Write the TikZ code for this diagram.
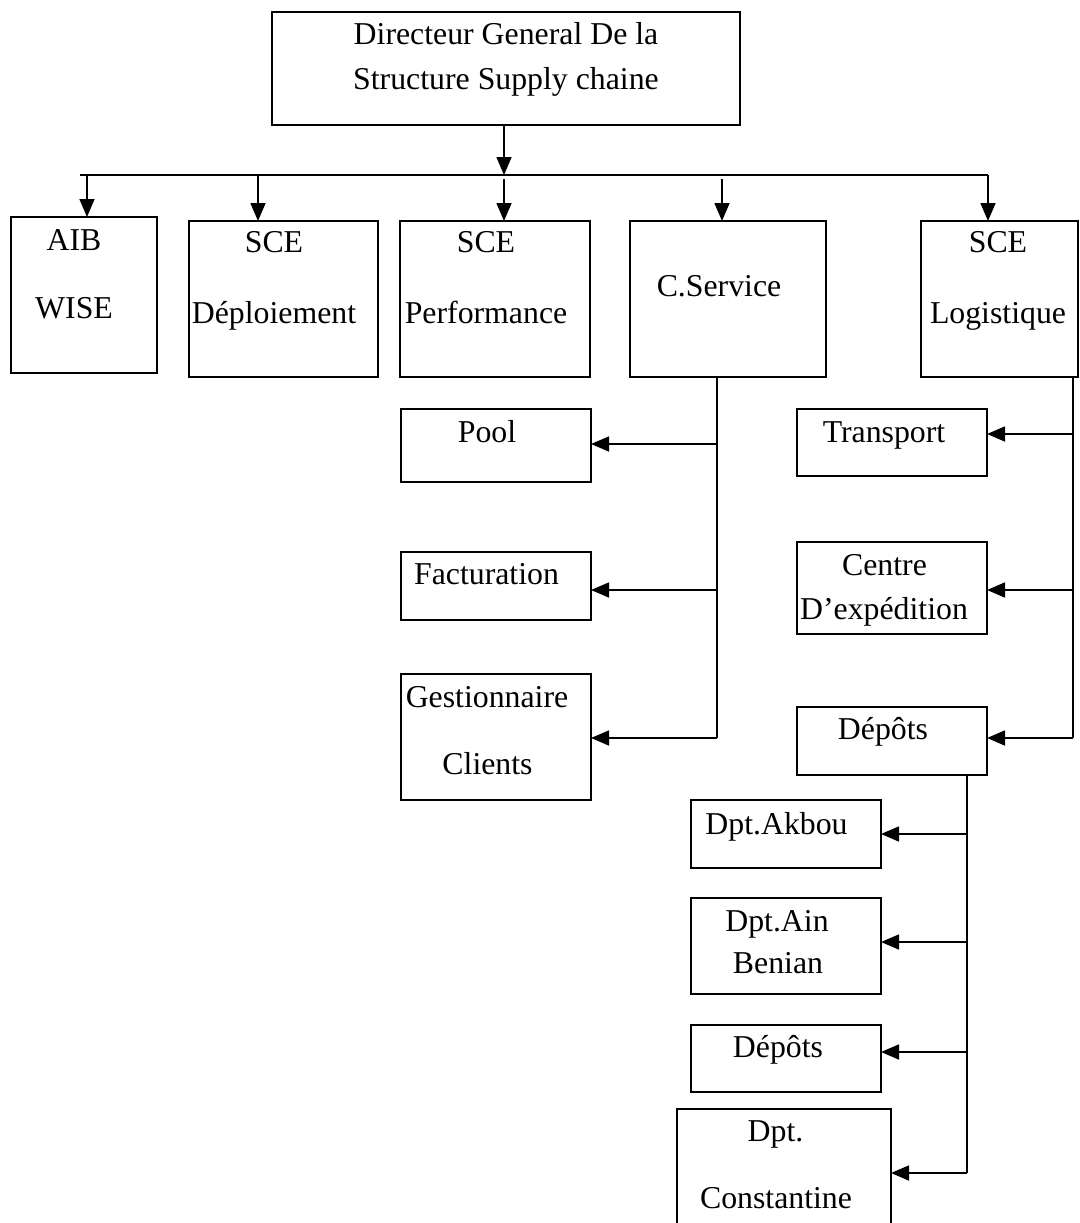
\documentclass[tikz,border=0pt]{standalone}
\usepackage{fontspec}
\setmainfont{Liberation Serif}
\usetikzlibrary{arrows.meta}
\tikzset{
  box/.style={draw, line width=1.8pt, inner sep=0pt, outer sep=0pt},
  lbl/.style={anchor=base, inner sep=0pt, font=\fontsize{31.8}{36}\selectfont},
  conn/.style={line width=1.6pt},
  busline/.style={line width=2.8pt},
  arr/.style={line width=1.6pt, -{Triangle[length=18pt,width=15pt]}}
}
\newcommand{\boxnode}[5]{\node[box, minimum width={(#4-#2)*1pt}, minimum height={(#5-#3)*1pt}] (#1) at ({(#2+#4)/2},{(#3+#5)/2}) {};}
\begin{document}
\begin{tikzpicture}[x=1pt,y=-1pt]
\clip (0,0) rectangle (1079,1223);
\fill[white] (0,0) rectangle (1079,1223);
% boxes
\boxnode{top}{272}{12}{740}{125}
\boxnode{aib}{11}{217}{157}{373}
\boxnode{dep}{189}{221}{378}{377}
\boxnode{perf}{400}{221}{590}{377}
\boxnode{csrv}{630}{221}{826}{377}
\boxnode{log}{921}{221}{1078}{377}
\boxnode{pool}{401}{409}{591}{482}
\boxnode{fact}{401}{552}{591}{620}
\boxnode{gest}{401}{674}{591}{800}
\boxnode{trans}{797}{409}{987}{476}
\boxnode{centre}{797}{542}{987}{634}
\boxnode{depots}{797}{707}{987}{775}
\boxnode{akbou}{691}{800}{881}{868}
\boxnode{ain}{691}{898}{881}{994}
\boxnode{depotsb}{691}{1025}{881}{1092}
\boxnode{const}{677}{1109}{891}{1245}
% texts
\node[lbl] (t1) at (506,45) {Directeur General De la};
\node[lbl] (t2) at (506,89) {Structure Supply chaine};
\node[lbl] (t3) at (74,250) {AIB};
\node[lbl] (t4) at (74,318) {WISE};
\node[lbl] (t5) at (274,252) {SCE};
\node[lbl] (t6) at (274,323) {Déploiement};
\node[lbl] (t7) at (486,252) {SCE};
\node[lbl] (t8) at (486,323) {Performance};
\node[lbl] (t9) at (719,296) {C.Service};
\node[lbl] (t10) at (998,252) {SCE};
\node[lbl] (t11) at (998,323) {Logistique};
\node[lbl] (t12) at (487,442) {Pool};
\node[lbl] (t13) at (486.5,584) {Facturation};
\node[lbl] (t14) at (487,707) {Gestionnaire};
\node[lbl] (t15) at (487.5,774) {Clients};
\node[lbl] (t16) at (884,442) {Transport};
\node[lbl] (t17) at (884.5,575) {Centre};
\node[lbl] (t18) at (884,619) {D’expédition};
\node[lbl] (t19) at (883,739) {Dépôts};
\node[lbl] (t20) at (776.5,834) {Dpt.Akbou};
\node[lbl] (t21) at (777,931) {Dpt.Ain};
\node[lbl] (t22) at (778,973) {Benian};
\node[lbl] (t23) at (778,1057) {Dépôts};
\node[lbl] (t24) at (775.5,1141) {Dpt.};
\node[lbl] (t25) at (776,1208) {Constantine};
% top connectors
\coordinate (busL) at (80,175);
\coordinate (busR) at (988,175);
\draw[arr] (top.south -| 504,0) -- (504,175);
\draw[busline] (busL) -- (busR);
\draw[arr] (87,175) -- (aib.north -| 87,0);
\draw[arr] (258,175) -- (dep.north -| 258,0);
\draw[arr] (504,179) -- (perf.north -| 504,0);
\draw[arr] (722,179) -- (csrv.north -| 722,0);
\draw[arr] (busR) -- (log.north -| 988,0);
% C.Service branch
\coordinate (csB) at (717,738);
\draw[conn] (csrv.south -| csB) -- (csB);
\draw[arr] (717,444) -- (pool.east |- 0,444);
\draw[arr] (717,590) -- (fact.east |- 0,590);
\draw[arr] (csB) -- (gest.east |- csB);
% Logistique branch
\coordinate (lgB) at (1073,738);
\draw[conn] (log.south -| lgB) -- (lgB);
\draw[arr] (1073,434) -- (trans.east |- 0,434);
\draw[arr] (1073,590) -- (centre.east |- 0,590);
\draw[arr] (lgB) -- (depots.east |- lgB);
% Depots branch
\coordinate (dpB) at (967,1173);
\draw[conn] (depots.south -| dpB) -- (dpB);
\draw[arr] (967,834) -- (akbou.east |- 0,834);
\draw[arr] (967,942) -- (ain.east |- 0,942);
\draw[arr] (967,1052) -- (depotsb.east |- 0,1052);
\draw[arr] (dpB) -- (const.east |- dpB);
\end{tikzpicture}
\end{document}
